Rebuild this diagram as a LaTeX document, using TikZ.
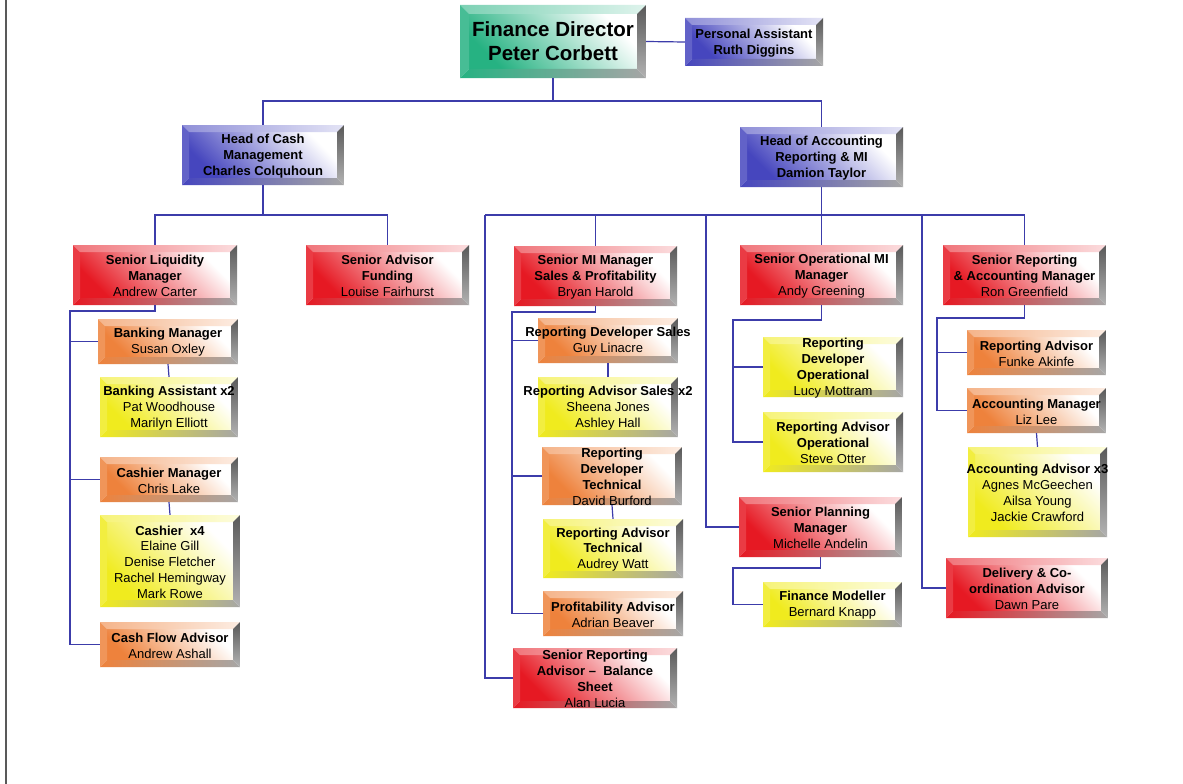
\documentclass[tikz,border=0pt]{standalone}
\usepackage{fontspec}
\setmainfont{Liberation Sans}
\usetikzlibrary{shadings,calc}
\definecolor{fdgreen}{RGB}{38,178,130}
\definecolor{obblue}{RGB}{70,70,190}
\definecolor{obred}{RGB}{230,25,35}
\definecolor{oborange}{RGB}{238,130,60}
\definecolor{obyellow}{RGB}{240,235,30}
\definecolor{connblue}{RGB}{60,60,170}
\newcommand\obbevel[2]{%
  \path (path picture bounding box.south west) coordinate (pA)
        (path picture bounding box.south east) coordinate (pB)
        (path picture bounding box.north east) coordinate (pC)
        (path picture bounding box.north west) coordinate (pD);
  \path ([shift={(#2,#2)}]pA) coordinate (qA)
        ([shift={(-#2,#2)}]pB) coordinate (qB)
        ([shift={(-#2,-#2)}]pC) coordinate (qC)
        ([shift={(#2,-#2)}]pD) coordinate (qD);
  \shade[left color=#1, middle color=#1!28!white, right color=white, shading angle=135] (qA) rectangle (qC);
  \shade[left color=#1!60!white, right color=#1!15!white] (pD) -- (pC) -- (qC) -- (qD) -- cycle;
  \fill[#1!85!white] (pD) -- (qD) -- (qA) -- (pA) -- cycle;
  \shade[left color=#1, right color=black!35] (pA) -- (pB) -- (qB) -- (qA) -- cycle;
  \shade[top color=black!65, bottom color=black!30] (pB) -- (pC) -- (qC) -- (qB) -- cycle;
}
\tikzset{
  obox/.style 2 args={rectangle, inner sep=0pt, fill=white, path picture={\obbevel{#1}{#2}}},
  txt/.style={inner sep=0pt, align=center, text=black, yshift=-1pt, font=\fontsize{13}{15.8}\selectfont},
  bigtxt/.style={inner sep=0pt, align=center, text=black, font=\fontsize{20.5}{24}\selectfont\bfseries},
  conn/.style={draw=connblue, line width=1.2pt},
}
\newcommand\B[1]{\textbf{#1}}
% optional text style, name, x1, y1, x2, y2, colour, bevel, text
\newcommand\ob[9][txt]{%
  \node[obox={#7}{#8}, minimum width=#5pt-#3pt, minimum height=#6pt-#4pt] (#2) at ({(#3+#5)/2},{(#4+#6)/2}) {};
  \node[#1] (#2-t) at (#2) {#9};
}
\begin{document}
\begin{tikzpicture}[x=1pt,y=-1pt]
\useasboundingbox (0,0) rectangle (1183,784);
\fill[white] (0,0) rectangle (1183,784);
\draw[black!65, line width=2pt] (6,0) -- (6,784);

\ob[bigtxt]{fd}{460}{5}{646}{78}{fdgreen}{9pt}{Finance Director\\Peter Corbett}
\ob{pa}{685}{18}{823}{66}{obblue}{7pt}{\B{Personal Assistant}\\\B{Ruth Diggins}}
\ob{hc}{182}{125}{344}{185}{obblue}{7pt}{\B{Head of Cash}\\\B{Management}\\\B{Charles Colquhoun}}
\ob{ha}{740}{127}{903}{187}{obblue}{7pt}{\B{Head of Accounting}\\\B{Reporting \& MI}\\\B{Damion Taylor}}

\ob{sl}{73}{245}{237}{305}{obred}{7pt}{\B{Senior Liquidity}\\\B{Manager}\\Andrew Carter}
\ob{sa}{306}{245}{469}{305}{obred}{7pt}{\B{Senior Advisor}\\\B{Funding}\\Louise Fairhurst}
\ob{bm}{98}{319}{238}{364}{oborange}{7pt}{\B{Banking Manager}\\Susan Oxley}
\ob{ba}{100}{377}{238}{437}{obyellow}{7pt}{\B{Banking Assistant x2}\\Pat Woodhouse\\Marilyn Elliott}
\ob{cm}{100}{457}{238}{502}{oborange}{7pt}{\B{Cashier Manager}\\Chris Lake}
\ob{ca}{100}{515}{240}{607}{obyellow}{7pt}{\B{Cashier\ \ x4}\\Elaine Gill\\Denise Fletcher\\Rachel Hemingway\\Mark Rowe}
\ob{cf}{100}{622}{240}{667}{oborange}{7pt}{\B{Cash Flow Advisor}\\Andrew Ashall}

\ob{mi}{514}{246}{677}{306}{obred}{7pt}{\B{Senior MI Manager}\\\B{Sales \& Profitability}\\Bryan Harold}
\ob{rds}{538}{318}{678}{363}{oborange}{7pt}{\B{Reporting Developer Sales}\\Guy Linacre}
\ob{ras}{538}{377}{678}{437}{obyellow}{7pt}{\B{Reporting Advisor Sales x2}\\Sheena Jones\\Ashley Hall}
\ob{rdt}{542}{447}{682}{505}{oborange}{7pt}{\B{Reporting}\\\B{Developer}\\\B{Technical}\\David Burford}
\ob{rat}{543}{519}{683}{578}{obyellow}{7pt}{\B{Reporting Advisor}\\\B{Technical}\\Audrey Watt}
\ob{pad}{543}{591}{683}{636}{oborange}{7pt}{\B{Profitability Advisor}\\Adrian Beaver}
\ob{srb}{513}{648}{677}{708}{obred}{7pt}{\B{Senior Reporting}\\\B{Advisor --\ \ Balance}\\\B{Sheet}\\Alan Lucia}

\ob{som}{740}{245}{903}{305}{obred}{7pt}{\B{Senior Operational MI}\\\B{Manager}\\Andy Greening}
\ob{rdo}{763}{337}{903}{397}{obyellow}{7pt}{\B{Reporting}\\\B{Developer}\\\B{Operational}\\Lucy Mottram}
\ob{rao}{763}{412}{903}{472}{obyellow}{7pt}{\B{Reporting Advisor}\\\B{Operational}\\Steve Otter}
\ob{spm}{739}{497}{902}{557}{obred}{7pt}{\B{Senior Planning}\\\B{Manager}\\Michelle Andelin}
\ob{fm}{763}{582}{902}{627}{obyellow}{7pt}{\B{Finance Modeller}\\Bernard Knapp}

\ob{sra}{943}{245}{1106}{305}{obred}{7pt}{\B{Senior Reporting}\\\B{\& Accounting Manager}\\Ron Greenfield}
\ob{ra}{967}{330}{1106}{375}{oborange}{7pt}{\B{Reporting Advisor}\\Funke Akinfe}
\ob{am}{967}{388}{1106}{433}{oborange}{7pt}{\B{Accounting Manager}\\Liz Lee}
\ob{aa}{968}{447}{1107}{537}{obyellow}{7pt}{\B{Accounting Advisor x3}\\Agnes McGeechen\\Ailsa Young\\Jackie Crawford}
\ob{dca}{946}{558}{1108}{618}{obred}{7pt}{\B{Delivery \& Co-}\\\B{ordination Advisor}\\Dawn Pare}

% connectors
\draw[conn] (fd.east) -- (pa.west);
\coordinate (b1) at (553,101);
\draw[conn] (fd.south) -- (b1);
\draw[conn] (hc.north) |- (b1) -| (ha.north);

\coordinate (b2) at (263,215);
\draw[conn] (hc.south) -- (b2);
\draw[conn] (sl.north) |- (b2) -| (sa.north);

\coordinate (j1) at (70,311);
\draw[conn] (sl.south) |- (j1) |- (cf.west);
\draw[conn] (j1) |- (bm.west);
\draw[conn] (j1) |- (cm.west);
\draw[conn] (bm.south) -- (ba.north);
\draw[conn] (cm.south) -- (ca.north);

\coordinate (b3) at (485,215);
\coordinate (b4) at (706,215);
\coordinate (b5) at (922,215);
\draw[conn] (ha.south) -- (som.north);
\draw[conn] (b3) -| (sra.north);
\draw[conn] (b3) -| (mi.north);
\draw[conn] (b3) |- (srb.west);
\draw[conn] (b4) |- (spm.west);
\draw[conn] (b5) |- (dca.west);

\coordinate (j2) at (512,312);
\draw[conn] (mi.south) |- (j2) |- (pad.west);
\draw[conn] (j2) |- (rds.west);
\draw[conn] (j2) |- (rdt.west);
\draw[conn] (rds.south) -- (ras.north);
\draw[conn] (rdt.south) -- (rat.north);

\coordinate (j3) at (733,320);
\draw[conn] (som.south) |- (j3) |- (rao.west);
\draw[conn] (j3) |- (rdo.west);
\coordinate (j4) at (733,568);
\draw[conn] (spm.south) |- (j4) |- (fm.west);

\coordinate (j5) at (937,318);
\draw[conn] (sra.south) |- (j5) |- (am.west);
\draw[conn] (j5) |- (ra.west);
\draw[conn] (am.south) -- (aa.north);
\end{tikzpicture}
\end{document}
